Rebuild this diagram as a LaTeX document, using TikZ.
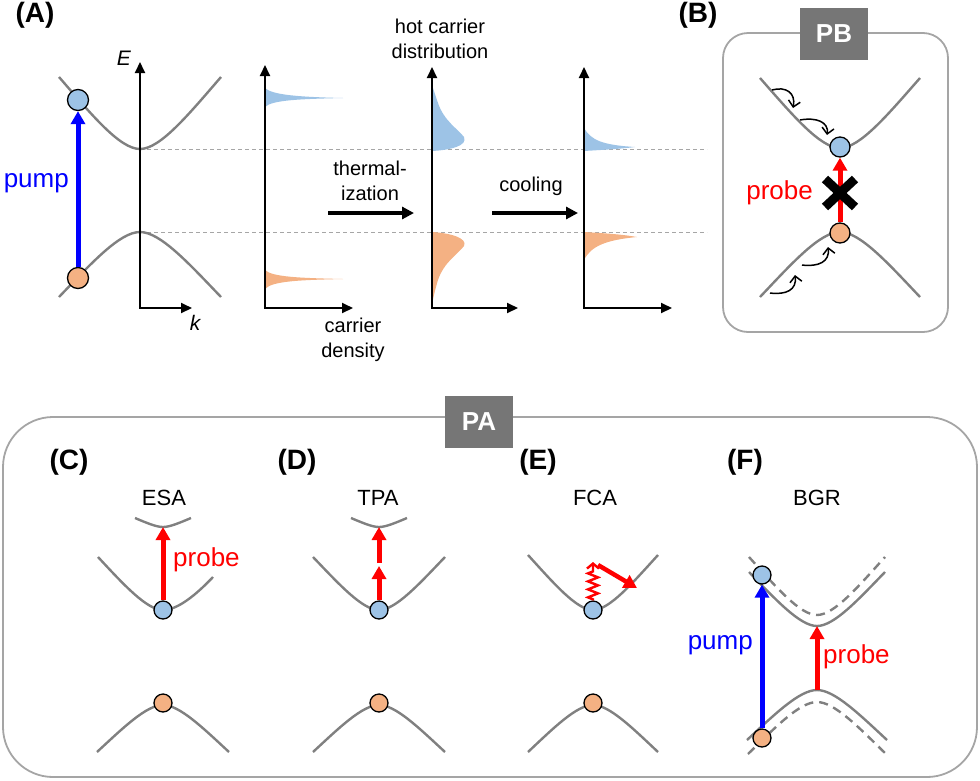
\documentclass[tikz,border=0pt]{standalone}
\usepackage{fontspec}
\setmainfont{Liberation Sans}
\usetikzlibrary{arrows.meta, positioning, decorations.pathmorphing}

\definecolor{eblue}{RGB}{157,195,230}
\definecolor{horange}{RGB}{244,177,131}
\definecolor{bandgray}{RGB}{128,128,128}
\definecolor{tagfill}{RGB}{118,118,118}
\definecolor{framegray}{RGB}{165,165,165}
\definecolor{pumpblue}{RGB}{0,0,255}
\definecolor{probered}{RGB}{255,0,0}

\tikzset{
  bandline/.style={draw=bandgray, line width=2.4pt},
  pics/band/.style={code={
    \draw[bandline] (-1,-1) .. controls (-0.6,-0.48) and (-0.25,0) .. (0,0)
                            .. controls (0.25,0) and (0.6,-0.48) .. (1,-1);}},
  guide/.style={draw=black!35, line width=0.8pt, dash pattern=on 4pt off 3pt},
  axis/.style={draw=black, line width=2pt,
               {Triangle[length=11pt,width=10pt]}-{Triangle[length=11pt,width=10pt]}},
  procarrow/.style={draw=black, line width=3.5pt, -{Triangle[length=12pt,width=12pt]}},
  pumparrow/.style={draw=pumpblue, line width=5pt, -{Triangle[length=13pt,width=14pt]}},
  probearrow/.style={draw=probered, line width=5pt, -{Triangle[length=13pt,width=14pt]}},
  hop/.style={draw=black, line width=1.5pt,
              -{Straight Barb[length=6pt,width=12pt,line width=1.5pt]}},
  wavy/.style={draw=probered, line width=2.4pt, decorate,
               decoration={zigzag, amplitude=5pt, segment length=8pt,
                           pre length=1pt, post length=7pt},
               -{Straight Barb[length=5pt,width=12pt]}},
  ecirc/.style={circle, fill=eblue, draw=black, line width=1.3pt,
                minimum size=21pt, inner sep=0pt},
  hcirc/.style={circle, fill=horange, draw=black, line width=1.3pt,
                minimum size=21pt, inner sep=0pt},
  small circ/.style={minimum size=18pt},
  panel/.style={font=\fontsize{28}{32}\selectfont\bfseries, inner sep=0pt},
  tag/.style={rectangle, fill=tagfill, text=white, inner sep=0pt,
              minimum width=68pt, minimum height=52pt,
              font=\fontsize{26}{30}\selectfont\bfseries},
  frame/.style={draw=framegray, line width=1.8pt},
  note/.style={font=\fontsize{20}{25}\selectfont, align=center, inner sep=0pt},
  title/.style={font=\fontsize{22}{26}\selectfont, inner sep=0pt},
  beam/.style={font=\fontsize{26}{30}\selectfont, inner sep=0pt},
  axlbl/.style={font=\fontsize{21}{24}\selectfont\itshape, inner sep=0pt}
}

\begin{document}
\begin{tikzpicture}[x=1pt, y=-1pt]
    \useasboundingbox (0,0) rectangle (980,780);
    % Panel A: bands and distributions
    \node[panel] (labA) at (35,15) {(A)};
    \draw[guide] (140,149) -- (707,149);
    \draw[guide] (140,232) -- (707,232);
    \pic[xscale=81, yscale=72] at (140,149) {band};
    \pic[xscale=81, yscale=-65] at (140,232) {band};
    \draw[axis] (140,62) -- (140,308) -- (192,308);
    \node[axlbl] (labE) at (124,58) {E};
    \node[axlbl] (labk) at (195,323) {k};
    \node[ecirc] (aE) at (78,100) {};
    \node[hcirc] (aH) at (78,278) {};
    \draw[pumparrow] (aH) -- (aE);
    \node[beam, text=pumpblue, anchor=east] (aPump) at (69,183) {pump};
    % initial carrier density
    \fill[eblue] (265,88) .. controls (272,95) and (300,97) .. (343,98)
                 .. controls (300,99) and (272,100) .. (265,107) -- cycle;
    \fill[horange] (265,270) .. controls (272,277) and (300,278) .. (343,279)
                   .. controls (300,280) and (272,281) .. (265,289) -- cycle;
    \draw[axis] (265,65) -- (265,308) -- (353,308);
    \node[note] (cdens) at (353,340) {carrier\\density};
    % thermalized distribution
    \fill[eblue] (432,151) .. controls (450,150) and (468,146) .. (464,137)
                 .. controls (458,129) and (444,121) .. (438,103)
                 .. controls (435,94) and (433,89) .. (432,84) -- cycle;
    \fill[horange] (432,232) .. controls (450,233) and (468,238) .. (464,246)
                   .. controls (458,254) and (444,262) .. (438,280)
                   .. controls (435,290) and (433,298) .. (432,306) -- cycle;
    \draw[axis] (432,67) -- (432,308) -- (518,308);
    \node[note] (hotdist) at (440,39) {hot carrier\\distribution};
    % cooled distribution
    \fill[eblue] (584,128) .. controls (591,140) and (602,145) .. (635,147)
                 .. controls (620,149) and (600,150) .. (584,151) -- cycle;
    \fill[horange] (584,232) .. controls (600,233) and (620,234) .. (637,237)
                   .. controls (606,240) and (591,246) .. (584,260) -- cycle;
    \draw[axis] (584,67) -- (584,308) -- (672,308);
    % process arrows
    \coordinate (thS) at (328,213);
    \coordinate (thF) at (414,213);
    \draw[procarrow] (thS) -- (thF);
    \node[note] (therm) at (370,181) {thermal-\\ization};
    \coordinate (coS) at (492,213);
    \coordinate (coF) at (578,213);
    \draw[procarrow] (coS) -- (coF);
    \node[note] (cool) at (531,186) {cooling};

    % Panel B: PB
    \node[panel] (labB) at (698,15) {(B)};
    \draw[frame, rounded corners=25pt] (723,33) rectangle (948,332);
    \node[tag] (tagPB) at (834,34) {PB};
    \pic[xscale=80, yscale=70] at (840,148) {band};
    \pic[xscale=80, yscale=-65] at (840,232) {band};
    \node[ecirc, minimum size=20pt] (bE) at (840,147) {};
    \node[hcirc, minimum size=20pt] (bH) at (840,233) {};
    \draw[probearrow] (bH) -- (bE);
    \draw[line width=9pt] (825,179) -- (855,207) (825,207) -- (855,179);
    \node[beam, text=probered, anchor=east] (bProbe) at (813,193) {probe};
    \draw[hop] (772,90) .. controls (786,86) and (796,93) .. (793,108);
    \draw[hop] (800,120) .. controls (816,117) and (829,122) .. (827,135);
    \draw[hop] (770,293) .. controls (786,295) and (797,290) .. (795,275);
    \draw[hop] (802,265) .. controls (818,267) and (830,262) .. (828,247);

    % Panel PA frame
    \draw[frame, rounded corners=50pt] (3,417) rectangle (977,777);
    \node[tag] (tagPA) at (479,422) {PA};

    % Panel C: ESA
    \node[panel] (labC) at (69,462) {(C)};
    \node[title] (tESA) at (164,498) {ESA};
    \pic[xscale=28, yscale=9] at (163,527) {band};
    \draw[bandline] (98,557) .. controls (124,585) and (147,610) .. (163,610)
                    .. controls (177,610) and (195,596) .. (213,577);
    \pic[xscale=66, yscale=-47] at (163,705) {band};
    \coordinate (cTop) at (163,527);
    \node[ecirc, small circ] (cE) at (163,610) {};
    \node[hcirc, small circ] (cH) at (163,703) {};
    \draw[probearrow] (cE) -- (cTop);
    \node[beam, text=probered, anchor=west] (cProbe) at (173,560) {probe};

    % Panel D: TPA
    \node[panel] (labD) at (297,462) {(D)};
    \node[title] (tTPA) at (378,498) {TPA};
    \pic[xscale=28, yscale=9] at (379,527) {band};
    \pic[xscale=66, yscale=53] at (379,610) {band};
    \pic[xscale=66, yscale=-47] at (379,705) {band};
    \node[ecirc, small circ] (dE) at (379,610) {};
    \node[hcirc, small circ] (dH) at (379,703) {};
    \coordinate (dMid) at (379,566);
    \coordinate (dMid2) at (379,563);
    \coordinate (dTop) at (379,527);
    \draw[probearrow] (dE) -- (dMid);
    \draw[probearrow] (dMid2) -- (dTop);

    % Panel E: FCA
    \node[panel] (labE2) at (538,462) {(E)};
    \node[title] (tFCA) at (595,498) {FCA};
    \pic[xscale=65, yscale=55] at (593,610) {band};
    \pic[xscale=65, yscale=-47] at (593,705) {band};
    \node[ecirc, small circ] (eE) at (593,610) {};
    \node[hcirc, small circ] (eH) at (593,703) {};
    \coordinate (eKick) at (593,562);
    \draw[wavy] (eE) -- (eKick);
    \coordinate (eS) at (598,565);
    \coordinate (eF) at (637,588);
    \draw[probearrow, line width=4.5pt] (eS) -- (eF);

    % Panel F: BGR
    \node[panel] (labF) at (745,462) {(F)};
    \node[title] (tBGR) at (817,498) {BGR};
    \pic[dash pattern=on 9pt off 6pt, xscale=68, yscale=58] at (817,615) {band};
    \pic[xscale=68, yscale=54] at (817,626) {band};
    \pic[xscale=70, yscale=-50] at (817,690) {band};
    \pic[dash pattern=on 9pt off 6pt, xscale=69, yscale=-52] at (817,702) {band};
    \node[ecirc, small circ] (fE) at (762,575) {};
    \node[hcirc, small circ] (fH) at (762,738) {};
    \draw[pumparrow] (fH) -- (fE);
    \coordinate (fCB) at (817,626);
    \coordinate (fVB) at (817,690);
    \draw[probearrow] (fVB) -- (fCB);
    \node[beam, text=pumpblue, anchor=east] (fPump) at (753,645) {pump};
    \node[beam, text=probered, anchor=west] (fProbe) at (823,657) {probe};
\end{tikzpicture}
\end{document}
